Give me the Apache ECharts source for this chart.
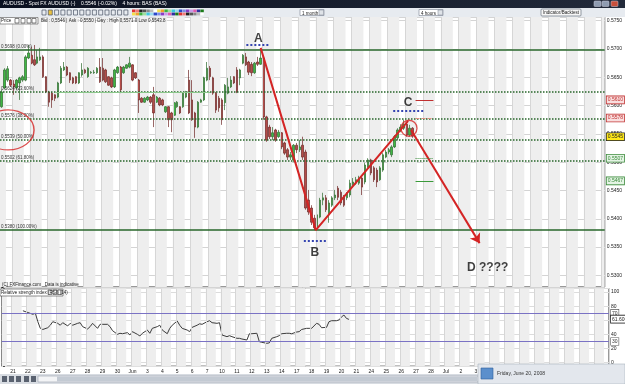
<!DOCTYPE html>
<html>
<head>
<meta charset="utf-8">
<title>AUDUSD 4 hours</title>
<script src="https://cdn.jsdelivr.net/npm/echarts@6/dist/echarts.min.js"></script>
<style>
  html, body { margin: 0; padding: 0; background: #fff; }
  #chart { width: 625px; height: 384px; }
</style>
</head>
<body>
<div id="chart"></div>
<script>
// trading day labels of the bottom axis (6 bars of 4 hours per day)
const dayLabels = ['21', '22', '23', '26', '27', '28', '29', '30', 'Jun', '3', '4', '5', '6', '7', '10', '11', '12', '13', '14',
  '17', '18', '19', '20', '21', '24', '25', '26', '27', '28', 'Jul', '2', '3', '4', '5', '8', '9', '10', '11', '12', '15']

// 4 hour candles in pips: [open, close, low, high]
const candlesPips = [
  [5598, 5624, 5596, 5628], [5631, 5663, 5629, 5666], [5645, 5665, 5642, 5670], [5645, 5636, 5633, 5647],
  [5638, 5633, 5619, 5645], [5631, 5645, 5628, 5647], [5640, 5649, 5610, 5651], [5645, 5651, 5642, 5654],
  [5645, 5686, 5643, 5689], [5684, 5693, 5682, 5707], [5689, 5675, 5673, 5704], [5681, 5672, 5670, 5707],
  [5675, 5686, 5673, 5698], [5681, 5686, 5679, 5702], [5686, 5651, 5649, 5689], [5651, 5624, 5622, 5652],
  [5624, 5606, 5598, 5626], [5622, 5610, 5596, 5624], [5619, 5613, 5608, 5620], [5615, 5640, 5613, 5642],
  [5640, 5666, 5638, 5670], [5663, 5668, 5661, 5677], [5668, 5654, 5652, 5670], [5658, 5645, 5640, 5659],
  [5649, 5640, 5638, 5651], [5651, 5640, 5638, 5652], [5640, 5658, 5638, 5659], [5654, 5663, 5651, 5675],
  [5663, 5658, 5656, 5665], [5651, 5666, 5649, 5668], [5658, 5659, 5656, 5661], [5658, 5659, 5656, 5663],
  [5658, 5666, 5656, 5668], [5668, 5642, 5640, 5684], [5666, 5645, 5643, 5684], [5663, 5642, 5640, 5665],
  [5651, 5636, 5635, 5652], [5649, 5633, 5631, 5651], [5633, 5663, 5631, 5665], [5658, 5668, 5656, 5670],
  [5668, 5628, 5622, 5670], [5658, 5668, 5656, 5670], [5666, 5672, 5665, 5673], [5668, 5675, 5666, 5686],
  [5672, 5645, 5643, 5673], [5658, 5649, 5647, 5659], [5645, 5610, 5587, 5647], [5613, 5606, 5605, 5615],
  [5606, 5613, 5605, 5615], [5610, 5615, 5608, 5617], [5615, 5606, 5603, 5617], [5619, 5587, 5562, 5633],
  [5606, 5615, 5605, 5617], [5613, 5601, 5599, 5615], [5610, 5601, 5599, 5612], [5589, 5598, 5587, 5599],
  [5598, 5575, 5562, 5599], [5587, 5575, 5553, 5589], [5583, 5605, 5582, 5606], [5598, 5606, 5596, 5608],
  [5598, 5587, 5585, 5599], [5598, 5622, 5596, 5624], [5615, 5624, 5613, 5626], [5645, 5587, 5585, 5663],
  [5610, 5575, 5573, 5645], [5587, 5562, 5543, 5589], [5562, 5606, 5560, 5608], [5606, 5610, 5605, 5612],
  [5610, 5649, 5608, 5651], [5645, 5666, 5643, 5677], [5666, 5651, 5645, 5670], [5649, 5622, 5619, 5651],
  [5622, 5592, 5587, 5624], [5613, 5596, 5589, 5617], [5610, 5575, 5566, 5613], [5605, 5636, 5592, 5638],
  [5622, 5633, 5620, 5649], [5633, 5645, 5631, 5652], [5651, 5640, 5638, 5652], [5663, 5624, 5622, 5668],
  [5649, 5663, 5636, 5665], [5675, 5689, 5673, 5691], [5686, 5672, 5670, 5693], [5677, 5659, 5654, 5679],
  [5673, 5658, 5652, 5677], [5658, 5675, 5656, 5677], [5677, 5673, 5670, 5686], [5673, 5684, 5672, 5698],
  [5684, 5580, 5575, 5686], [5580, 5539, 5536, 5582], [5562, 5545, 5541, 5566], [5545, 5552, 5539, 5562],
  [5557, 5539, 5536, 5559], [5545, 5553, 5543, 5557], [5552, 5527, 5523, 5553], [5534, 5516, 5513, 5536],
  [5522, 5509, 5504, 5525], [5509, 5513, 5504, 5518], [5504, 5530, 5500, 5532], [5530, 5522, 5516, 5534],
  [5522, 5527, 5518, 5539], [5530, 5509, 5504, 5545], [5518, 5419, 5416, 5522], [5433, 5412, 5407, 5451],
  [5419, 5394, 5389, 5424], [5401, 5384, 5380, 5407], [5384, 5407, 5380, 5410], [5403, 5433, 5401, 5437],
  [5433, 5437, 5424, 5446], [5437, 5416, 5412, 5442], [5407, 5428, 5393, 5433], [5424, 5437, 5421, 5440],
  [5437, 5442, 5433, 5451], [5454, 5438, 5433, 5458], [5447, 5428, 5424, 5451], [5438, 5424, 5421, 5442],
  [5437, 5446, 5433, 5447], [5442, 5463, 5438, 5469], [5460, 5465, 5456, 5472], [5463, 5469, 5460, 5474],
  [5463, 5472, 5460, 5476], [5472, 5456, 5442, 5476], [5465, 5495, 5461, 5499], [5491, 5504, 5490, 5507],
  [5504, 5481, 5477, 5506], [5490, 5469, 5465, 5493], [5486, 5465, 5456, 5490], [5469, 5490, 5467, 5493],
  [5486, 5513, 5483, 5516], [5509, 5518, 5507, 5522], [5518, 5522, 5514, 5525], [5513, 5527, 5509, 5530],
  [5527, 5545, 5525, 5548], [5543, 5557, 5539, 5560], [5557, 5562, 5553, 5567], [5560, 5567, 5557, 5575],
  [5567, 5548, 5545, 5571], [5548, 5560, 5545, 5566], [5560, 5546, 5543, 5562]
]

// RSI (14) readings: [bar, value]
const rsi = [
  [8, 73.5], [10, 71], [12, 68.5], [13, 70], [14, 58], [15, 48.6], [16, 47], [18, 49.5], [19, 53], [20, 58],
  [22, 55.7], [23, 53], [24, 56.6], [26, 52], [27, 55.7], [28, 53], [30, 55.7], [31, 56.6], [32, 51], [34, 47.7],
  [35, 51], [36, 55.7], [38, 48.6], [39, 54.3], [40, 54.3], [42, 54.3], [43, 51], [44, 45.3], [46, 40.1], [47, 41.6],
  [48, 41], [50, 42.5], [51, 39.2], [52, 43.9], [54, 40.1], [55, 37.8], [56, 41.6], [58, 46.2], [59, 41.6], [60, 48.6],
  [62, 51], [63, 53], [64, 46.2], [66, 41], [67, 48.6], [68, 53], [70, 59], [71, 53], [72, 48.6], [74, 46.2],
  [75, 43.9], [76, 50], [78, 53], [79, 55], [80, 54.3], [82, 58], [83, 59.4], [84, 56.6], [86, 55.7], [87, 56.6],
  [88, 39.2], [90, 36.8], [91, 38.2], [92, 36.8], [94, 34.5], [95, 34.5], [96, 33.5], [98, 32.1], [99, 41], [100, 41],
  [102, 41.6], [103, 29.7], [104, 28.8], [106, 27.4], [107, 28], [108, 34.5], [110, 36.8], [111, 38.2], [112, 41], [114, 41.6],
  [115, 41.6], [116, 41], [118, 43.4], [119, 43.9], [120, 47], [122, 48.6], [123, 48.6], [124, 48.6], [126, 55.7], [127, 54.3],
  [128, 49.5], [130, 50], [131, 58], [132, 59.4], [134, 59.4], [135, 60.5], [136, 64.7], [137, 67.4], [138, 62.7], [139, 61.3]
]

// fibonacci retracement A -> B
const fibNames = ['0.00%', '23.60%', '38.20%', '50.00%', '61.80%', '100.00%']
const fibPips = [5698, 5624, 5576, 5539, 5502, 5380]

// wave drawing: A, B, C and projected D  [bar, pips]
const waveNames = ['A', 'B', 'C', 'D ????']
const wavePoints = [[87, 5702], [105.5, 5380], [136.5, 5573], [160.5, 5357]]
const waveLabelPoints = [[86.2, 5719], [105.2, 5341], [136.5, 5605], [163.2, 5313]]

// price boxes on the right axis
const orderPips = [5610, 5578, 5507, 5467]
const lastPips = 5545
const rsiLevels = [70, 30]
const rsiLast = 61.6

const FONT = "'Liberation Sans', Arial, sans-serif"
const TOP_SLOTS = 203
const RSI_SLOTS = 244
const px = p => p / 10000

const chart = echarts.init(document.getElementById('chart'))

// light day stripes + day separators
function dayBands(slots) {
  const areas = []
  const lines = []
  for (let d = -1; d < 42; d++) {
    const s = 3.5 + 6 * d
    if (s > slots - 0.5) break
    areas.push([{ xAxis: Math.max(-0.5, s) }, { xAxis: Math.min(slots - 0.5, s + 4) }])
    if (s > -0.5) lines.push({ xAxis: s })
  }
  return { areas, lines }
}
const topBands = dayBands(TOP_SLOTS)
const rsiBands = dayBands(RSI_SLOTS)

// invisible horizontal marker that only shows a boxed value beside the right axis
function rightBox(value, color, bg, text) {
  return {
    yAxis: value,
    lineStyle: { color: 'rgba(255,255,255,0)', width: 0 },
    label: {
      show: true, position: 'end', distance: 2, formatter: text,
      fontSize: 5, fontFamily: FONT, color: color,
      backgroundColor: bg, borderColor: color, borderWidth: 0.8, padding: [1, 1]
    }
  }
}

// window chrome around the chart
const chrome = []
chrome.push({ type: 'rect', shape: { x: 0, y: 0, width: 625, height: 8 },
  style: { fill: new echarts.graphic.LinearGradient(0, 0, 1, 0, [{ offset: 0, color: '#0b1120' }, { offset: 1, color: '#222a3a' }]) } })
chrome.push({ type: 'text', x: 3, y: 1.5, style: { text: 'AUDUSD - Spot FX AUDUSD (-)    0.5546 (-0.02%)    4 hours: BAS (BAS)', fill: '#fff', fontSize: 5, fontFamily: FONT } })
;[594, 602, 611].forEach((x, i) => chrome.push({ type: 'rect', shape: { x, y: 1, width: 7, height: 5.5, r: 1 },
  style: { fill: i === 2 ? '#c8503c' : '#8e9bb0', stroke: '#ccd', lineWidth: 0.5 } }))
chrome.push({ type: 'rect', shape: { x: 0, y: 8, width: 625, height: 9 }, style: { fill: '#e7ebf0' } })
for (let k = 0; k < 14; k++) {
  chrome.push({ type: 'rect', shape: { x: 42 + k * 6.3, y: 10, width: 4, height: 5 },
    style: { fill: k === 1 ? '#e8c040' : 'none', stroke: '#4a5566', lineWidth: 0.7 } })
}
const palette = ['#e03434', '#f07a7a', '#222', '#555', '#888', '#bbb', '#fff', '#f4e04a', '#f0a030', '#3cb43c',
  '#9ee09e', '#3cc8e0', '#9adcf0', '#2a48c8', '#7d8ce8', '#8a3cc8', '#c89ae8', '#e05ab0', '#3030a0', '#1a7a1a']
palette.forEach((c, k) => {
  chrome.push({ type: 'rect', shape: { x: 132 + k * 3.6, y: 9.5, width: 3.4, height: 2.8 }, style: { fill: c } })
  chrome.push({ type: 'rect', shape: { x: 132 + k * 3.6, y: 12.6, width: 3.4, height: 2.8 }, style: { fill: palette[(k + 7) % palette.length] } })
})
;[[300, '1 month'], [419, '4 hours']].forEach(([x, t]) => {
  chrome.push({ type: 'rect', shape: { x, y: 9.5, width: 24, height: 6 }, style: { fill: '#fff', stroke: '#7a8290', lineWidth: 0.6 } })
  chrome.push({ type: 'rect', shape: { x: x + 19, y: 10, width: 4.5, height: 5 }, style: { fill: '#dfe3e8', stroke: '#7a8290', lineWidth: 0.5 } })
  chrome.push({ type: 'text', x: x + 2, y: 10.8, style: { text: t, fill: '#222', fontSize: 4.5, fontFamily: FONT } })
})
chrome.push({ type: 'rect', shape: { x: 541, y: 9, width: 40, height: 7, r: 1 }, style: { fill: '#f6f6f6', stroke: '#6a7280', lineWidth: 0.7 } })
chrome.push({ type: 'text', x: 561, y: 12.5, style: { text: 'Indicator/Backtest', fill: '#222', fontSize: 4.5, fontFamily: FONT, align: 'center', verticalAlign: 'middle' } })
// pane headers
chrome.push({ type: 'rect', shape: { x: 0, y: 17.5, width: 38, height: 6.5 }, style: { fill: '#fff', stroke: '#555', lineWidth: 0.6 } })
chrome.push({ type: 'text', x: 1, y: 18.7, style: { text: 'Price', fill: '#222', fontSize: 4.5, fontFamily: FONT } })
;[15, 21, 27, 32].forEach(x => chrome.push({ type: 'rect', shape: { x, y: 18.5, width: 4, height: 4.5 }, style: { fill: 'none', stroke: '#333', lineWidth: 0.6 } }))
chrome.push({ type: 'text', x: 41, y: 18.7, style: { text: 'Bid : 0,5546 | Ask : 0,5550 | Day : High 0,5571.0 Low 0,5543.8', fill: '#222', fontSize: 4.5, fontFamily: FONT } })
chrome.push({ type: 'text', x: 2, y: 282, style: { text: '(C) FXFinance.com   Data is indicative', fill: '#222', fontSize: 4.5, fontFamily: FONT } })
chrome.push({ type: 'rect', shape: { x: 0, y: 289, width: 63, height: 7 }, style: { fill: '#fff', stroke: '#444', lineWidth: 0.6 } })
chrome.push({ type: 'text', x: 1, y: 290.5, style: { text: 'Relative strength index (RSI) (14)', fill: '#222', fontSize: 4.5, fontFamily: FONT } })
;[48, 53, 58].forEach(x => chrome.push({ type: 'rect', shape: { x, y: 290, width: 3.8, height: 4.5 }, style: { fill: 'none', stroke: '#333', lineWidth: 0.6 } }))
// bottom bar
chrome.push({ type: 'rect', shape: { x: 0, y: 374, width: 625, height: 10 }, style: { fill: '#d8dce2' } })
;[2, 9, 16, 24, 31].forEach(x => chrome.push({ type: 'rect', shape: { x, y: 376, width: 5, height: 6 }, style: { fill: '#5a6270' } }))
chrome.push({ type: 'rect', shape: { x: 38, y: 376, width: 440, height: 6 }, style: { fill: '#f3f4f6', stroke: '#9aa3ae', lineWidth: 0.6 } })
chrome.push({ type: 'rect', shape: { x: 57, y: 376.6, width: 420, height: 4.8 }, style: { fill: '#c3cad3' } })
chrome.push({ type: 'rect', shape: { x: 478, y: 364, width: 147, height: 20 }, style: { fill: '#e3e7ed', stroke: '#aab2bd', lineWidth: 0.6 } })
chrome.push({ type: 'rect', shape: { x: 481, y: 368, width: 12, height: 11 }, style: { fill: '#5b8fcc', stroke: '#2f5f9a', lineWidth: 0.6 } })
chrome.push({ type: 'text', x: 497, y: 371, style: { text: 'Friday, June 20, 2008', fill: '#333', fontSize: 5, fontFamily: FONT } })

const option = {
  animation: false,
  backgroundColor: '#fff',
  grid: [
    { left: 0, top: 17, width: 609, height: 270, show: true, borderColor: '#333', borderWidth: 1, backgroundColor: '#fff' },
    { left: 0, top: 288.5, width: 609, height: 77.7, show: true, borderColor: '#333', borderWidth: 1, backgroundColor: '#fff' }
  ],
  xAxis: [
    { type: 'category', gridIndex: 0, data: Array.from({ length: TOP_SLOTS }, (_, i) => String(i)), boundaryGap: true, show: false },
    { type: 'value', gridIndex: 0, min: -0.5, max: TOP_SLOTS - 0.5, show: false },
    {
      type: 'category', gridIndex: 1, data: Array.from({ length: RSI_SLOTS }, (_, i) => String(i)), boundaryGap: true,
      axisLine: { show: false },
      axisTick: { alignWithLabel: true, length: 2, lineStyle: { color: '#333' }, interval: i => i >= 4 && (i - 4) % 6 === 0 },
      axisLabel: {
        interval: 0, fontSize: 5, fontFamily: FONT, color: '#222', margin: 3,
        formatter: (v, i) => (i >= 4 && (i - 4) % 6 === 0 ? (dayLabels[(i - 4) / 6] || '') : '')
      },
      splitLine: { show: false }
    },
    { type: 'value', gridIndex: 1, min: -0.5, max: RSI_SLOTS - 0.5, show: false }
  ],
  yAxis: [
    {
      type: 'value', gridIndex: 0, position: 'right', min: 0.52795, max: 0.57565,
      splitNumber: 9, minInterval: 0.005, maxInterval: 0.005,
      axisLine: { show: true, lineStyle: { color: '#222' } },
      axisTick: { show: true, length: 2, lineStyle: { color: '#222' } },
      axisLabel: {
        fontSize: 5, fontFamily: FONT, color: '#222', margin: 2,
        formatter: v => (Math.abs(v * 200 - Math.round(v * 200)) < 1e-6 ? v.toFixed(4) : '')
      },
      splitLine: { lineStyle: { color: '#d4d4d4', width: 1 } }
    },
    {
      type: 'value', gridIndex: 1, position: 'right', min: -5, max: 105,
      splitNumber: 5, minInterval: 20, maxInterval: 20,
      axisLine: { show: true, lineStyle: { color: '#222' } },
      axisTick: { show: true, length: 2, lineStyle: { color: '#222' } },
      axisLabel: { fontSize: 5, fontFamily: FONT, color: '#222', margin: 2, formatter: v => (v >= 0 && v % 20 === 0 ? String(v) : '') },
      splitLine: { lineStyle: { color: '#dcdcdc', width: 1 } }
    }
  ],
  series: [
    {
      name: 'days-top', type: 'line', xAxisIndex: 1, yAxisIndex: 0, data: [], silent: true, z: 1,
      markArea: { silent: true, itemStyle: { color: '#eeeeee' }, data: topBands.areas },
      markLine: { silent: true, symbol: 'none', precision: 5, label: { show: false }, lineStyle: { color: '#d6d6d6', width: 1, type: 'solid' }, data: topBands.lines }
    },
    {
      name: 'fibonacci', type: 'line', xAxisIndex: 1, yAxisIndex: 0, data: [], silent: true, z: 2,
      markLine: {
        silent: true, symbol: 'none', precision: 6,
        data: fibPips.map((p, i) => ({
          yAxis: px(p),
          lineStyle: { color: '#27662a', width: 1.5, type: i === 0 || i === fibPips.length - 1 ? 'solid' : 'dotted' },
          label: { show: true, position: 'insideStartTop', distance: 1, formatter: px(p).toFixed(4) + ' (' + fibNames[i] + ')', fontSize: 4.5, fontFamily: FONT, color: '#333' }
        })).concat([
          [{ coord: [18, px(5624)], lineStyle: { color: '#8cc88c', width: 1.2, type: 'solid' }, label: { show: false } }, { coord: [70, px(5624)] }]
        ])
      }
    },
    {
      name: 'AUDUSD', type: 'candlestick', xAxisIndex: 0, yAxisIndex: 0, z: 3, barWidth: 2,
      data: candlesPips.map(c => c.map(px)),
      itemStyle: { color: '#3fb843', color0: '#b44c48', borderColor: '#2e6a2e', borderColor0: '#6e2725', borderWidth: 0.7 },
      markLine: {
        silent: true, symbol: 'none', precision: 6,
        data: [
          rightBox(px(orderPips[0]), '#c03030', '#f9dede', px(orderPips[0]).toFixed(4)),
          rightBox(px(orderPips[1]), '#c03030', '#f9dede', px(orderPips[1]).toFixed(4)),
          rightBox(px(lastPips), '#222', '#ffe81a', px(lastPips).toFixed(4)),
          rightBox(px(orderPips[2]), '#3a8a3a', '#e4f4e4', px(orderPips[2]).toFixed(4)),
          rightBox(px(orderPips[3]), '#3a8a3a', '#e4f4e4', px(orderPips[3]).toFixed(4))
        ]
      }
    },
    {
      name: 'wave', type: 'line', xAxisIndex: 1, yAxisIndex: 0, z: 6, silent: true,
      data: wavePoints.slice(0, 3).map(p => [p[0], px(p[1])]),
      symbol: 'none', lineStyle: { color: '#d42424', width: 2 },
      markLine: {
        silent: true, symbol: ['none', 'arrow'], symbolSize: 9, precision: 6, label: { show: false },
        lineStyle: { color: '#d42424', width: 2, type: 'solid' },
        data: [[{ coord: [wavePoints[2][0] + 1, px(wavePoints[2][1] - 16)] }, { coord: [wavePoints[3][0], px(wavePoints[3][1])] }]]
      }
    },
    {
      name: 'marks', type: 'line', xAxisIndex: 1, yAxisIndex: 0, data: [], z: 5, silent: true,
      markLine: {
        silent: true, symbol: 'none', precision: 6, label: { show: false },
        data: [
          [{ coord: [82.2, px(5707)], lineStyle: { color: '#3444b0', width: 2, type: 'dotted' } }, { coord: [90.2, px(5707)] }],
          [{ coord: [101.5, px(5361)], lineStyle: { color: '#3444b0', width: 2, type: 'dotted' } }, { coord: [109.5, px(5361)] }],
          [{ coord: [131.5, px(5590)], lineStyle: { color: '#3444b0', width: 2, type: 'dotted' } }, { coord: [142.2, px(5590)] }],
          [{ coord: [139, px(orderPips[0])], lineStyle: { color: '#c03030', width: 1, type: 'solid' } }, { coord: [145, px(orderPips[0])] }],
          [{ coord: [139, px(orderPips[1])], lineStyle: { color: '#e09080', width: 1, type: 'dashed' } }, { coord: [145, px(orderPips[1])] }],
          [{ coord: [139, px(orderPips[2])], lineStyle: { color: '#3a8a3a', width: 1, type: 'dotted' } }, { coord: [145, px(orderPips[2])] }],
          [{ coord: [139, px(orderPips[3])], lineStyle: { color: '#3a9a3a', width: 1, type: 'solid' } }, { coord: [145, px(orderPips[3])] }]
        ]
      }
    },
    {
      name: 'circles', type: 'scatter', xAxisIndex: 1, yAxisIndex: 0, z: 7, silent: true,
      symbol: 'circle',
      itemStyle: { color: 'rgba(0,0,0,0)', borderColor: '#d42424', borderWidth: 1.3 },
      data: [
        { value: [136.8, px(5560)], symbolSize: 16 },
        { value: [2.2, px(5557)], symbolSize: [52, 40] }
      ]
    },
    {
      name: 'labels', type: 'scatter', xAxisIndex: 1, yAxisIndex: 0, z: 8, silent: true, symbolSize: 0,
      data: waveLabelPoints.map((p, i) => ({ value: [p[0], px(p[1])], name: waveNames[i] })),
      label: { show: true, position: 'inside', formatter: '{b}', fontSize: 12, fontWeight: 'bold', fontFamily: FONT, color: '#111' }
    },
    {
      name: 'days-rsi', type: 'line', xAxisIndex: 3, yAxisIndex: 1, data: [], silent: true, z: 1,
      markArea: { silent: true, itemStyle: { color: '#eeeeee' }, data: rsiBands.areas },
      markLine: { silent: true, symbol: 'none', precision: 5, label: { show: false }, lineStyle: { color: '#d6d6d6', width: 1, type: 'solid' }, data: rsiBands.lines }
    },
    {
      name: 'RSI', type: 'line', xAxisIndex: 3, yAxisIndex: 1, z: 4, silent: true,
      data: rsi, symbol: 'none', lineStyle: { color: '#3c3c3c', width: 1 },
      markLine: {
        silent: true, symbol: 'none', precision: 3,
        data: rsiLevels.map(v => ({
          yAxis: v, lineStyle: { color: '#7a72c4', width: 1.2, type: 'solid' },
          label: { show: true, position: 'end', distance: 2, formatter: String(v), fontSize: 5, fontFamily: FONT, color: '#333', backgroundColor: '#fff', borderColor: '#555', borderWidth: 0.6, padding: [1, 1] }
        })).concat([rightBox(rsiLast, '#222', '#fff', rsiLast.toFixed(3))])
      }
    }
  ],
  graphic: chrome.map(g => Object.assign({ silent: true, z: 100 }, g))
}

chart.setOption(option)
window.addEventListener('resize', () => chart.resize())
</script>
</body>
</html>
